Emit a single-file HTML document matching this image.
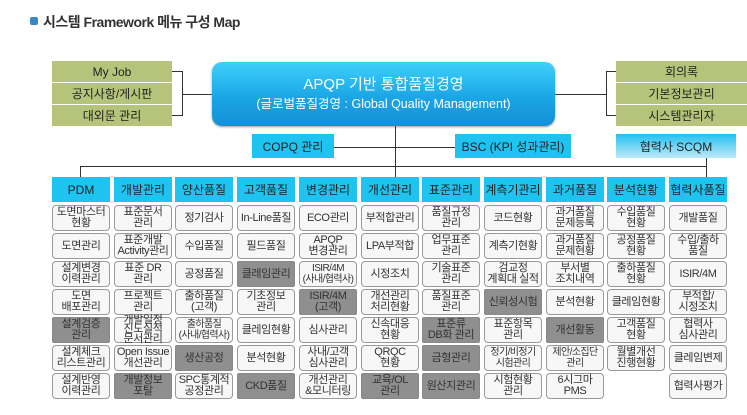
<!DOCTYPE html>
<html><head><meta charset="utf-8"><style>
body{margin:0;width:747px;height:415px;background:#fff;position:relative;overflow:hidden;font-family:"Liberation Sans","Noto Sans CJK KR",sans-serif;}
.a{position:absolute;box-sizing:border-box;display:flex;align-items:center;justify-content:center;text-align:center;white-space:nowrap;}
.g{background:#b5c47a;color:#222;font-size:12px;}
.h{background:#1ec3f0;color:#222;font-size:12px;}
.c{background:#f7f7f7;border:1px solid #999;border-radius:4px;font-size:11px;line-height:11px;color:#333;letter-spacing:-0.4px;}
.d{background:#8f8f8f;border:1px solid #888;border-radius:2px;font-size:11px;line-height:11px;color:#333;letter-spacing:-0.4px;}
.l{position:absolute;background:#333;}
.sm{font-size:10px;letter-spacing:-0.6px}
</style></head><body>
<div class="a" style="left:30px;top:17px;width:8px;height:8px;background:#3a86c8;border-radius:2px"></div>
<div style="position:absolute;left:43px;top:12px;font-size:14px;color:#333;letter-spacing:-0.5px;font-weight:bold">시스템 Framework 메뉴 구성 Map</div>

<div class="a g" style="left:52px;top:61px;width:120px;height:21px">My Job</div>
<div class="a g" style="left:52px;top:83px;width:120px;height:21px">공지사항/게시판</div>
<div class="a g" style="left:52px;top:105px;width:120px;height:21px">대외문 관리</div>
<div class="a g" style="left:616px;top:61px;width:131px;height:21px">회의록</div>
<div class="a g" style="left:616px;top:83px;width:131px;height:21px">기본정보관리</div>
<div class="a g" style="left:616px;top:105px;width:131px;height:21px">시스템관리자</div>

<div class="l" style="left:172px;top:71px;width:10px;height:1px"></div>
<div class="l" style="left:172px;top:115px;width:10px;height:1px"></div>
<div class="l" style="left:182px;top:71px;width:1px;height:45px"></div>
<div class="l" style="left:182px;top:94px;width:30px;height:1px"></div>
<div class="l" style="left:606px;top:71px;width:10px;height:1px"></div>
<div class="l" style="left:606px;top:115px;width:10px;height:1px"></div>
<div class="l" style="left:606px;top:71px;width:1px;height:45px"></div>
<div class="l" style="left:555px;top:94px;width:51px;height:1px"></div>

<div class="a" style="left:212px;top:62px;width:343px;height:64px;border-radius:10px;background:linear-gradient(#3fd0fb,#1aa6e6 55%,#1590d6);color:#fff;flex-direction:column;box-shadow:0 1px 2px #999">
<div style="font-size:15px;line-height:20px">APQP 기반 통합품질경영</div>
<div style="font-size:12.5px;line-height:18px">(글로벌품질경영 : Global Quality Management)</div></div>

<div class="l" style="left:395px;top:126px;width:1px;height:51px"></div>
<div class="a h" style="left:252px;top:134px;width:82px;height:24px">COPQ 관리</div>
<div class="a h" style="left:455px;top:134px;width:116px;height:24px">BSC (KPI 성과관리)</div>
<div class="l" style="left:334px;top:147px;width:121px;height:1px"></div>
<div class="a" style="left:616px;top:134px;width:120px;height:24px;background:linear-gradient(#22c0f0,#bfe9f7);font-size:12px;color:#222">협력사 SCQM</div>
<div class="l" style="left:80px;top:166px;width:627px;height:1px"></div>
<div class="l" style="left:80px;top:166px;width:1px;height:11px"></div>
<div class="l" style="left:706px;top:158px;width:1px;height:19px"></div>
<div id="grid"></div>
<script>
var H=["PDM","개발관리","양산품질","고객품질","변경관리","개선관리","표준관리","계측기관리","과거품질","분석현황","협력사품질"];
var C=[
["도면마스터<br>현황","도면관리","설계변경<br>이력관리","도면<br>배포관리","*설계검증<br>관리","설계체크<br>리스트관리","설계반영<br>이력관리"],
["표준문서<br>관리","표준개발<br>Activity관리","표준 DR<br>관리","프로젝트<br>관리","개발일정<br>진도실적<br>문서관리","Open Issue<br>개선관리","*개발정보<br>포탈"],
["정기검사","수입품질","공정품질","출하품질<br>(고객)","~출하품질<br>(사내/협력사)","*생산공정","SPC통계적<br>공정관리"],
["In-Line품질","필드품질","*클레임관리","기초정보<br>관리","클레임현황","분석현황","*CKD품질"],
["ECO관리","APQP<br>변경관리","~ISIR/4M<br>(사내/협력사)","*ISIR/4M<br>(고객)","심사관리","사내/고객<br>심사관리","개선관리<br>&모니터링"],
["부적합관리","LPA부적합","시정조치","개선관리<br>처리현황","신속대응<br>현황","QRQC<br>현황","*교육/OL<br>관리"],
["품질규정<br>관리","업무표준<br>관리","기술표준<br>관리","품질표준<br>관리","*표준류<br>DB화 관리","*금형관리","*원산지관리"],
["코드현황","계측기현황","검교정<br>계획대 실적","*신뢰성시험","표준항목<br>관리","~정기/비정기<br>시험관리","시험현황<br>관리"],
["과거품질<br>문제등록","과거품질<br>문제현황","부서별<br>조치내역","분석현황","*개선활동","~제안/소집단<br>관리","6시그마<br>PMS"],
["수입품질<br>현황","공정품질<br>현황","출하품질<br>현황","클레임현황","고객품질<br>현황","월별개선<br>진행현황",""],
["개발품질","수입/출하<br>품질","ISIR/4M","부적합/<br>시정조치","협력사<br>심사관리","클레임변제","협력사평가"]];
var s="";
for(var i=0;i<11;i++){var x=Math.round(52+i*61.7);
s+='<div class="a h" style="left:'+x+'px;top:177px;width:58px;height:25px">'+H[i]+'</div>';
if(i==5)s+='<div class="l" style="left:395px;top:166px;width:1px;height:11px"></div>';
for(var k=0;k<7;k++){var t=C[i][k];if(!t)continue;var cl="c";
if(t[0]=="*"){cl="d";t=t.slice(1);}
if(t[0]=="~"){cl+=" sm";t=t.slice(1);}
if(t.split("<br>").length>2)t='<span style="line-height:9.5px;display:block">'+t+'</span>';
s+='<div class="a '+cl+'" style="left:'+x+'px;top:'+(205+k*28)+'px;width:58px;height:26px">'+t+'</div>';}}
document.getElementById("grid").innerHTML=s;
</script>
</body></html>
